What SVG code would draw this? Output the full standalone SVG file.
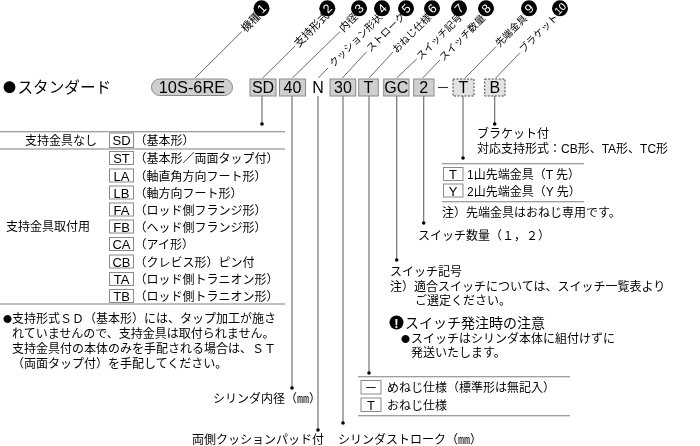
<svg xmlns="http://www.w3.org/2000/svg" width="700" height="446" viewBox="0 0 700 446">
<style>
text{font-family:"Liberation Sans","Noto Sans CJK JP",sans-serif;font-size:12px;fill:#000}
.jp{font-family:"Noto Sans CJK JP",sans-serif}
.code{font-size:16px;text-anchor:middle}
.rot{font-size:10px;font-family:"Noto Sans CJK JP",sans-serif}
.rb{font-size:11px}
.num{font-size:12.500px;text-anchor:middle;fill:#fff}
.k{font-size:13px;text-anchor:middle}
.b{font-size:9px}
.g{fill:#cfcfcf;stroke:#8a8a8a;stroke-width:1}
.d{fill:#e2e2e2;stroke:#444;stroke-width:1;stroke-dasharray:2 1.5}
.w{fill:#fff;stroke:#8a8a8a;stroke-width:1}
.l{stroke:#444;stroke-width:.8;fill:none}
.v{stroke:#666;stroke-width:1.1;fill:none}
.r{stroke:#808080;stroke-width:1.1;fill:none}
.gray{opacity:.999}
</style>
<g class="gray">
<text class="jp" x="3" y="92" style="font-size:13px">●</text><text class="jp" x="17.500" y="92.500" style="font-size:15.600px">スタンダード</text>
<g id="connectors">
<path class="l" d="M195 78L241.700 31.700M262.700 78L295 46M292.300 78L340 31.700M318.300 78L328 68M342.300 78L366.700 51.700M369 78L393 52M396.700 78L416.700 59M422.700 78L440 60M465 78L496 46.700M495.700 78L520 52.700"/>
<path class="v" d="M262 96V124M292 96V388M318 96V430M343 96V423M369 96V373M396.700 96V260M423.700 96V223M463 96V158M494.700 96V124"/>
<g fill="#000"><circle cx="262" cy="124" r="1.800"/><circle cx="292" cy="388" r="1.800"/><circle cx="318" cy="430" r="1.800"/><circle cx="343" cy="423" r="1.800"/><circle cx="369" cy="373" r="1.800"/><circle cx="396.700" cy="260" r="1.800"/><circle cx="423.700" cy="223" r="1.800"/><circle cx="463" cy="158" r="1.800"/><circle cx="494.700" cy="124" r="1.800"/></g>
</g>
<g id="label-1"><text class="rot rb" transform="translate(243,30) rotate(-45)" y="3.800">機種</text><circle cx="261.500" cy="8.300" r="8"/><text class="num" transform="translate(261.500,8.300) rotate(-45)" y="4.500">1</text></g>
<g id="label-2"><text class="rot rb" transform="translate(296,45) rotate(-45)" y="3.800">支持形式</text><circle cx="327.300" cy="8.300" r="8"/><text class="num" transform="translate(327.300,8.300) rotate(-45)" y="4.500">2</text></g>
<g id="label-3"><text class="rot" transform="translate(341,30) rotate(-45)" y="3.500" style="font-size:10.500px">内径</text><circle cx="359" cy="8.300" r="8"/><text class="num" transform="translate(359,8.300) rotate(-45)" y="4.500">3</text></g>
<g id="label-4"><text class="rot" transform="translate(331,65) rotate(-45)" y="3.500">クッション形状</text><circle cx="382" cy="8.300" r="8"/><text class="num" transform="translate(382,8.300) rotate(-45)" y="4.500">4</text></g>
<g id="label-5"><text class="rot" transform="translate(368,50) rotate(-45)" y="3.500">ストローク</text><circle cx="406" cy="8.300" r="8"/><text class="num" transform="translate(406,8.300) rotate(-45)" y="4.500">5</text></g>
<g id="label-6"><text class="rot" transform="translate(394,51) rotate(-45)" y="3.500">おねじ仕様</text><circle cx="432" cy="8.300" r="8"/><text class="num" transform="translate(432,8.300) rotate(-45)" y="4.500">6</text></g>
<g id="label-7"><text class="rot" transform="translate(418,58) rotate(-45)" y="3.500">スイッチ記号</text><circle cx="459" cy="8.300" r="8"/><text class="num" transform="translate(459,8.300) rotate(-45)" y="4.500">7</text></g>
<g id="label-8"><text class="rot" transform="translate(441,59) rotate(-45)" y="3.500">スイッチ数量</text><circle cx="486" cy="8.300" r="8"/><text class="num" transform="translate(486,8.300) rotate(-45)" y="4.500">8</text></g>
<g id="label-9"><text class="rot" transform="translate(497,45) rotate(-45)" y="3.500">先端金具</text><circle cx="529" cy="8.300" r="8"/><text class="num" transform="translate(529,8.300) rotate(-45)" y="4.500">9</text></g>
<g id="label-10"><text class="rot" transform="translate(521,51) rotate(-45)" y="3.500">ブラケット</text><circle cx="560" cy="8.300" r="8"/><text class="num" transform="translate(560,8.300) rotate(-45)" y="4" style="font-size:10.500px">10</text></g>
<g id="model"><rect class="g" x="151.500" y="79" width="81" height="16.500" rx="8.200"/><text class="code" x="192" y="93" style="font-size:16.400px">10S-6RE</text></g>
<g id="code-sd"><rect class="g" x="250" y="79" width="26" height="17"/><text class="code" x="263" y="93">SD</text></g>
<g id="code-40"><rect class="g" x="279.500" y="79" width="26" height="17"/><text class="code" x="292.500" y="93">40</text></g>
<g id="code-n"><text class="code" x="318" y="93">N</text></g>
<g id="code-30"><rect class="g" x="330" y="79" width="25.700" height="17"/><text class="code" x="343" y="93">30</text></g>
<g id="code-t"><rect class="g" x="358.700" y="79" width="19.600" height="17"/><text class="code" x="368.500" y="93">T</text></g>
<g id="code-gc"><rect class="g" x="383.700" y="79" width="25.300" height="17"/><text class="code" x="396.300" y="93">GC</text></g>
<g id="code-2"><rect class="g" x="413.700" y="79" width="20.300" height="17"/><text class="code" x="423.800" y="93">2</text></g>
<g id="code-dash"><path d="M438 87.500H448" stroke="#333" stroke-width="1.100"/></g>
<g id="code-t2"><rect class="d" x="453" y="79" width="21" height="17"/><text class="code" x="463.500" y="93">T</text></g>
<g id="code-b"><rect class="d" x="484.700" y="79" width="20.300" height="17"/><text class="code" x="494.800" y="93">B</text></g>
<g id="mount-table">
<path class="r" d="M0 131.700H285M0 149H285M0 304H285"/>
<text x="25" y="145">支持金具なし</text>
<text x="6" y="231">支持金具取付用</text>
<g id="m-sd"><rect class="w" x="109.500" y="133" width="24" height="14.500"/><text class="k" x="121.500" y="145">SD</text><text x="134.500" y="145">（基本形）</text></g>
<g id="m-st"><rect class="w" x="109.500" y="151.500" width="24" height="13"/><text class="k" x="121.500" y="163">ST</text><text x="134.500" y="163">（基本形／両面タップ付）</text></g>
<g id="m-la"><rect class="w" x="109.500" y="169" width="24" height="13"/><text class="k" x="121.500" y="180.500">LA</text><text x="134.500" y="180.500">（軸直角方向フート形）</text></g>
<g id="m-lb"><rect class="w" x="109.500" y="186" width="24" height="13"/><text class="k" x="121.500" y="197.500">LB</text><text x="134.500" y="197.500">（軸方向フート形）</text></g>
<g id="m-fa"><rect class="w" x="109.500" y="203" width="24" height="13"/><text class="k" x="121.500" y="214.500">FA</text><text x="134.500" y="214.500">（ロッド側フランジ形）</text></g>
<g id="m-fb"><rect class="w" x="109.500" y="220" width="24" height="13"/><text class="k" x="121.500" y="231.500">FB</text><text x="134.500" y="231.500">（ヘッド側フランジ形）</text></g>
<g id="m-ca"><rect class="w" x="109.500" y="237.500" width="24" height="13"/><text class="k" x="121.500" y="249">CA</text><text x="134.500" y="249">（アイ形）</text></g>
<g id="m-cb"><rect class="w" x="109.500" y="255" width="24" height="13"/><text class="k" x="121.500" y="266.500">CB</text><text x="134.500" y="266.500">（クレビス形）ピン付</text></g>
<g id="m-ta"><rect class="w" x="109.500" y="272.500" width="24" height="13"/><text class="k" x="121.500" y="284">TA</text><text x="134.500" y="284">（ロッド側トラニオン形）</text></g>
<g id="m-tb"><rect class="w" x="109.500" y="289.500" width="24" height="13"/><text class="k" x="121.500" y="301">TB</text><text x="134.500" y="301">（ロッド側トラニオン形）</text></g>
</g>
<g id="note-mount">
<text class="jp b" x="3" y="322">●</text><text x="12" y="323">支持形式ＳＤ（基本形）には、タップ加工が施さ</text>
<text x="12" y="338">れていませんので、支持金具は取付られません。</text>
<text x="12" y="353">支持金具付の本体のみを手配される場合は、ＳＴ</text>
<text x="12" y="368">（両面タップ付）を手配してください。</text>
</g>
<g id="bracket-note"><text x="477" y="138">ブラケット付</text><text x="477" y="153">対応支持形式：CB形、TA形、TC形</text></g>
<g id="tip-table">
<path class="r" d="M442 163.700H584M442 201.700H584"/>
<rect class="w" x="443.500" y="167.500" width="19.500" height="13"/><text class="k" x="453" y="179">T</text><text x="467" y="179">1山先端金具（T 先）</text>
<rect class="w" x="443.500" y="184" width="19.500" height="13"/><text class="k" x="453" y="195.500">Y</text><text x="467" y="195.500">2山先端金具（Y 先）</text>
<text x="442" y="217">注）先端金具はおねじ専用です。</text>
</g>
<g id="switch-count"><text class="jp" x="418" y="240">スイッチ数量（１，２）</text></g>
<g id="switch-symbol">
<text x="390" y="276">スイッチ記号</text>
<text x="390" y="291">注）適合スイッチについては、スイッチ一覧表より</text>
<text x="415" y="305">ご選定ください。</text>
</g>
<g id="switch-caution">
<circle cx="396.500" cy="322.500" r="7" fill="#000"/><text x="396.500" y="327.500" style="font-size:13px;font-weight:bold;text-anchor:middle;fill:#fff">!</text>
<text x="405" y="327.500" style="font-size:14px">スイッチ発注時の注意</text>
<text class="jp b" x="401" y="341.500">●</text><text x="411" y="342.500">スイッチはシリンダ本体に組付けずに</text>
<text x="411" y="357">発送いたします。</text>
</g>
<g id="thread-table">
<path class="r" d="M358 376.700H570M358 415.700H570"/>
<rect class="w" x="361" y="380.500" width="20" height="13.500"/><text class="k" x="371" y="392">－</text><text x="387" y="392">めねじ仕様（標準形は無記入）</text>
<rect class="w" x="361" y="398" width="20" height="13.500"/><text class="k" x="371" y="409.500">T</text><text x="387" y="409.500">おねじ仕様</text>
</g>
<g id="labels-bottom">
<text class="jp" x="213" y="403">シリンダ内径（㎜）</text>
<text x="192" y="444">両側クッションパッド付</text>
<text class="jp" x="338" y="444">シリンダストローク（㎜）</text>
</g>
</g>
</svg>
